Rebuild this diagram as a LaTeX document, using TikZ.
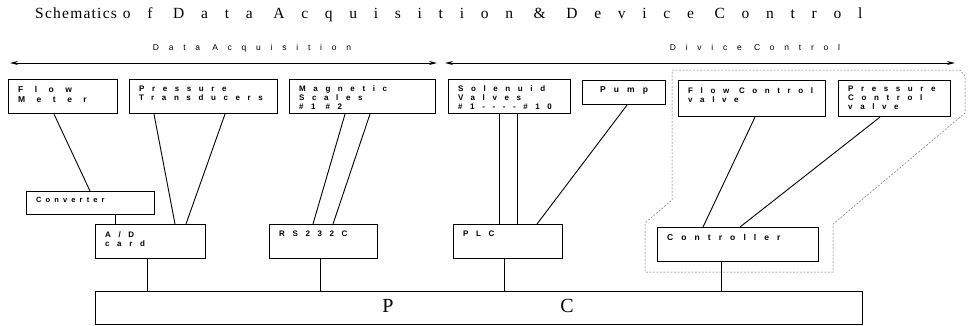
\documentclass[tikz,border=0pt]{standalone}
\usepackage{fontspec}
\usetikzlibrary{arrows.meta,calc}
\newfontfamily\boxfnt[LetterSpace=95]{Liberation Sans}
\newfontfamily\boxfntwide[LetterSpace=135]{Liberation Sans}
\newfontfamily\hdrfnt[LetterSpace=115]{Liberation Sans}
\newfontfamily\boxfntnarrow[LetterSpace=55]{Liberation Sans}
\newfontfamily\titleA[LetterSpace=8]{Liberation Serif}
\newfontfamily\titleB[LetterSpace=108]{Liberation Serif}
\begin{document}
\begin{tikzpicture}[x=1pt,y=-1pt,
  box/.style={draw, line width=1.1pt, inner sep=0pt, anchor=north west},
  lbl/.style={anchor=north west, inner xsep=10pt, inner ysep=6pt, align=left,
    font=\boxfnt\bfseries\fontsize{8}{9}\selectfont},
  wire/.style={line width=0.9pt},
  hdr/.style={font=\hdrfnt\fontsize{8.5}{9}\selectfont},
  dbl/.style={line width=1pt, {Stealth[length=8pt,width=4pt]}-{Stealth[length=8pt,width=4pt]}},
  region/.style={draw=black!55, line width=0.5pt, dash pattern=on 2pt off 1.5pt},
  pcl/.style={font=\titleA\fontsize{20}{22}\selectfont}
]
\useasboundingbox (0,0) rectangle (969,325);

% title
\node[anchor=west, inner sep=0pt] (title) at (35,15)
  {\titleA\fontsize{15.5}{17}\selectfont Schematics\hspace{6pt}\titleB of Data Acquisition \& Device Control};

% header arrows
\coordinate (a1l) at (10,63); \coordinate (a1r) at (437,63);
\coordinate (a2l) at (445,63); \coordinate (a2r) at (955,63);
\draw[dbl] (a1l) -- (a1r);
\draw[dbl] (a2l) -- (a2r);
\node[hdr] (hda) at (252,48) {Data Acquisition};
\node[hdr] (hdc) at (755,47) {Divice Control};

% dashed region
\draw[region] (672,70) -- (960,70) -- (965,76) -- (965,113) -- (833,224) -- (833,272)
  -- (645,272) -- (645,223) -- (672,200) -- cycle;

% top row boxes
\node[box, minimum width=109, minimum height=34, label={[lbl, inner ysep=7pt, font=\boxfntwide\bfseries\fontsize{8.5}{10.5}\selectfont]north west:{Flow\\Meter}}] (flow) at (8,79) {};
\node[box, minimum width=148, minimum height=34, label={[lbl, inner ysep=7pt]north west:{Pressure\\Transducers}}] (press) at (129,79) {};
\node[box, minimum width=146, minimum height=34, label={[lbl]north west:{Magnetic\\Scales\\\#1 \#2}}] (mag) at (289,79) {};
\node[box, minimum width=122, minimum height=34, label={[lbl]north west:{Solenuid\\Valves\\\#1----\#10}}] (sol) at (448,79) {};
\node[box, minimum width=83, minimum height=24, label={[lbl, inner xsep=18pt, font=\boxfnt\bfseries\fontsize{8.5}{9}\selectfont]north west:{Pump}}] (pump) at (582,80) {};
\node[box, minimum width=147, minimum height=36, label={[lbl, inner ysep=7pt]north west:{Flow Control\\valve}}] (fcv) at (678,80) {};
\node[box, minimum width=112, minimum height=36, label={[lbl]north west:{Pressure\\Control\\valve}}] (pcv) at (838,80) {};

% middle boxes
\node[box, minimum width=128, minimum height=23, label={[lbl, font=\boxfntnarrow\bfseries\fontsize{7.5}{9}\selectfont]north west:{Converter}}] (conv) at (26,191) {};
\node[box, minimum width=110, minimum height=34, label={[lbl, inner ysep=7pt]north west:{A/D\\card}}] (ad) at (95,224) {};
\node[box, minimum width=108, minimum height=34, label={[lbl, inner ysep=7pt]north west:{RS232C}}] (rs) at (269,224) {};
\node[box, minimum width=109, minimum height=34, label={[lbl, inner ysep=7pt]north west:{PLC}}] (plc) at (453,224) {};
\node[box, minimum width=161, minimum height=34, label={[lbl, inner ysep=7pt, font=\boxfnt\bfseries\fontsize{8.5}{9}\selectfont]north west:{Controller}}] (ctrl) at (657,227) {};

% PC
\node[box, minimum width=767, minimum height=33] (pc) at (95,291) {};
\node[pcl] (pcP) at (388,306) {P};
\node[pcl] (pcC) at (567,306) {C};

% connectors
\draw[wire] ($(flow.south west)+(46,0)$) -- ($(conv.north west)+(64,0)$);
\draw[wire] ($(press.south west)+(25,0)$) -- ($(ad.north west)+(80,0)$);
\draw[wire] ($(press.south west)+(96,0)$) -- ($(ad.north west)+(91,0)$);
\draw[wire] ($(mag.south west)+(56,0)$) -- ($(rs.north west)+(44,0)$);
\draw[wire] ($(mag.south west)+(81,0)$) -- ($(rs.north west)+(64,0)$);
\draw[wire] ($(sol.south west)+(51,0)$) -- ($(plc.north west)+(46,0)$);
\draw[wire] ($(sol.south west)+(69,0)$) -- ($(plc.north west)+(64,0)$);
\draw[wire] ($(pump.south west)+(45,0)$) -- ($(plc.north west)+(84,0)$);
\draw[wire] ($(fcv.south west)+(77,0)$) -- ($(ctrl.north west)+(46,0)$);
\draw[wire] ($(pcv.south west)+(42,0)$) -- ($(ctrl.north west)+(83,0)$);
\draw[wire] ($(conv.south west)+(89,0)$) -- ($(ad.north west)+(20,0)$);
\draw[wire] ($(ad.south west)+(52,0)$) -- ($(pc.north west)+(52,0)$);
\draw[wire] ($(rs.south west)+(51,0)$) -- ($(pc.north west)+(225,0)$);
\draw[wire] ($(plc.south west)+(51,0)$) -- ($(pc.north west)+(409,0)$);
\draw[wire] ($(ctrl.south west)+(64,0)$) -- ($(pc.north west)+(626,0)$);
\end{tikzpicture}
\end{document}
